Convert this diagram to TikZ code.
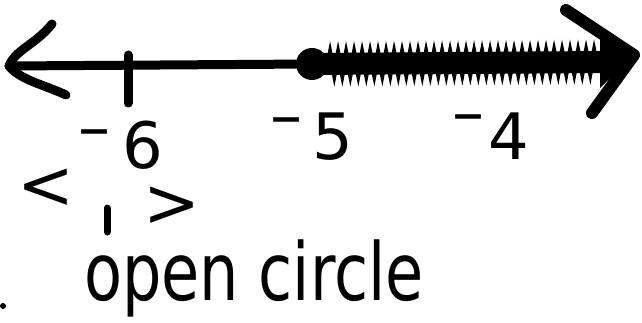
\documentclass[tikz,border=0pt]{standalone}
\usepackage{fontspec}
\setmainfont{DejaVu Sans}
\usetikzlibrary{decorations.pathmorphing}
\begin{document}
\begin{tikzpicture}[x=1pt,y=-1pt,
  ink/.style={line width=9pt, line cap=round, line join=round},
  lbl/.style={inner sep=0pt, font=\fontsize{64}{64}\selectfont},
  sym/.style={inner sep=0pt, font=\fontsize{68}{68}\selectfont}]
\useasboundingbox (0,0) rectangle (642,323);
% main line
\coordinate (L) at (9,66);
\coordinate (Lu) at (52,24);
\coordinate (Ld) at (66,95);
\coordinate (R) at (634,55);
\coordinate (Ru) at (566,10);
\coordinate (Rd) at (592,113);
\node[circle, fill, minimum size=32pt, inner sep=0pt] (dot) at (312,64) {};
\draw[ink] (Lu) .. controls (35,45) and (15,50) .. (L) .. controls (20,80) and (45,85) .. (Ld);
\draw[ink] (L) -- (dot);
\draw[ink] (128,55) coordinate (t1) -- (128,103) coordinate (t2);
% shaded ray
\draw[line width=22pt] (dot.center) -- (605,62);
\draw[line width=5pt, line cap=round, decorate, decoration={zigzag, segment length=8pt, amplitude=10pt}] (dot.east) -- (600,62);
% right arrowhead
\fill (600,28) -- (R) -- (600,88) -- cycle;
\draw[ink, line width=12pt] (Ru) -- (R) -- (Rd);
% labels
\node[lbl, anchor=base west] (m5) at (270,160) {\raisebox{22pt}{–}\hspace{10pt}5};
\node[lbl, anchor=base west] (m4) at (452,160) {\raisebox{25pt}{–}\hspace{4pt}4};
\node[lbl, anchor=base west] (m6) at (78,169) {\raisebox{20pt}{–}\hspace{12pt}6};
\node[sym, anchor=base] (lt) at (46,208) {<};
\node[sym, anchor=base] (gt) at (172,226) {>};
\draw[ink, line width=7pt] (107,208) -- (107,232);
\node[inner sep=0pt, anchor=base west, font=\fontsize{64}{64}\selectfont] (oc) at (84,300) {\scalebox{0.97}[1.25]{open circle}};
\fill (3,306) circle (3pt);
\end{tikzpicture}
\end{document}
